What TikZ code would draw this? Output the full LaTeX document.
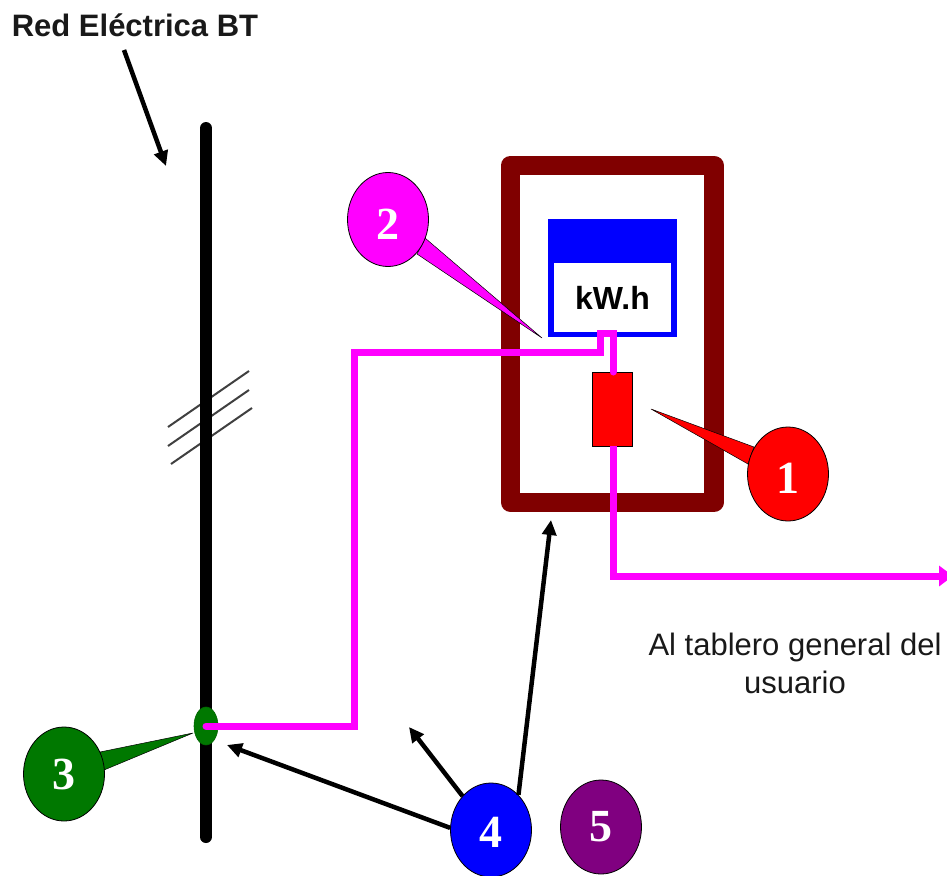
\documentclass[tikz,border=0pt]{standalone}
\usepackage{fontspec}
\setmainfont{Liberation Sans}
\newfontfamily\digitfont{Liberation Serif}
\usetikzlibrary{shapes.geometric,arrows.meta}
\definecolor{maroonbox}{RGB}{128,0,0}
\definecolor{wirepink}{RGB}{255,0,255}
\definecolor{greenball}{RGB}{0,120,0}
\definecolor{purpleball}{RGB}{128,0,128}
\tikzset{
  ball/.style={ellipse,draw=black,line width=.8pt,minimum width=81pt,minimum height=94pt,inner sep=0pt,text=white,font=\digitfont\fontsize{46}{46}\selectfont\bfseries},
  wedge/.style={draw=black,line width=.5pt,line join=miter},
  wire/.style={draw=wirepink,line width=7pt,line join=miter},
  pointer/.style={draw=black,line width=4.5pt,-{Triangle[length=15pt,width=14pt]}},
  hatch/.style={draw=black!75,line width=2pt},
  label/.style={font=\fontsize{31}{38}\selectfont,text=black!90,align=center,inner sep=0pt}
}
\begin{document}
\begin{tikzpicture}[x=1pt,y=-1pt]
\useasboundingbox (0,0) rectangle (947,875);
% hatch marks under the line
\draw[hatch] (168,427) -- (249,371);
\draw[hatch] (168,446) -- (249,390);
\draw[hatch] (171,464) -- (252,408);
% main line
\coordinate (lineTop) at (206,128);
\coordinate (lineBot) at (206,837);
\draw[line width=12pt,line cap=round] (lineTop) -- (lineBot);
\node[ellipse,draw=black!60!green,line width=.6pt,fill=greenball,minimum width=24pt,minimum height=38pt,inner sep=0pt] (tap) at (206,726) {};
% cabinet
\node[draw=maroonbox,line width=19.5pt,line join=round,minimum width=203.5pt,minimum height=337pt,inner sep=0pt,anchor=center] (cabinet) at (612.3,333.8) {};
% meter
\node[draw=blue,line width=5.5pt,fill=white,minimum width=123pt,minimum height=113pt,inner sep=0pt] (meter) at (612.5,278) {};
\fill[blue] (meter.north west) rectangle (meter.north east |- 0,263);
\node[font=\bfseries\fontsize{32}{32}\selectfont,inner sep=0pt] (kwh) at (612.5,298) {kW.h};
% fuse
\node[draw=black,line width=1pt,fill=red,minimum width=40pt,minimum height=74pt,inner sep=0pt] (fuse) at (612,409) {};
% wires
\coordinate (w1) at (354,726);
\coordinate (w2) at (354,352);
\coordinate (w3) at (600,352);
\coordinate (w4) at (600,333);
\coordinate (w5) at (613,333);
\coordinate (w6) at (613,372);
\coordinate (w7) at (613,446);
\coordinate (w8) at (613,576);
\coordinate (w9) at (953,576);
\draw[wire,line cap=round] (tap.center) -- (w1) -- (w2) -- (w3) -- (w4) -- (w5) -- (w6);
\draw[wire,-{Triangle[length=14pt,width=20pt]}] (w7) -- (w8) -- (w9);
% callouts
\coordinate (tip2) at (542,338);
\coordinate (tip1) at (651,409);
\coordinate (tip3) at (193,733);
\draw[wedge,fill=wirepink] (425,238) -- (tip2) -- (417,254) -- cycle;
\draw[wedge,fill=red] (754,447) -- (tip1) -- (748,464) -- cycle;
\draw[wedge,fill=greenball] (100,752) -- (tip3) -- (104,770) -- cycle;
\node[ball,fill=wirepink] (n2) at (388,219.5) {\raisebox{-5pt}[\height][\depth]{2}};
\node[ball,fill=red] (n1) at (788,474) {\raisebox{-4pt}[\height][\depth]{1}};
\node[ball,fill=greenball] (n3) at (64,774) {3};
\node[ball,fill=blue] (n4) at (491,830) {\raisebox{-2pt}[\height][\depth]{4}};
\node[ball,fill=purpleball] (n5) at (601,827) {5};
% title and pointers
\node[font=\bfseries\fontsize{31}{31}\selectfont,inner sep=0pt,text=black!90] (title) at (135,25) {Red Eléctrica BT};
\coordinate (p0a) at (124,50);
\coordinate (p0) at (166,166);
\draw[pointer] (p0a) -- (p0);
\coordinate (p1) at (227,745);
\coordinate (p2) at (409,727);
\coordinate (p3) at (551,520);
\draw[pointer] (n4.177) -- (p1);
\draw[pointer] (n4.130) -- (p2);
\draw[pointer] (n4.52) -- (p3);
% note
\node[label] (note) at (795,663) {Al tablero general del\\usuario};
\end{tikzpicture}
\end{document}
